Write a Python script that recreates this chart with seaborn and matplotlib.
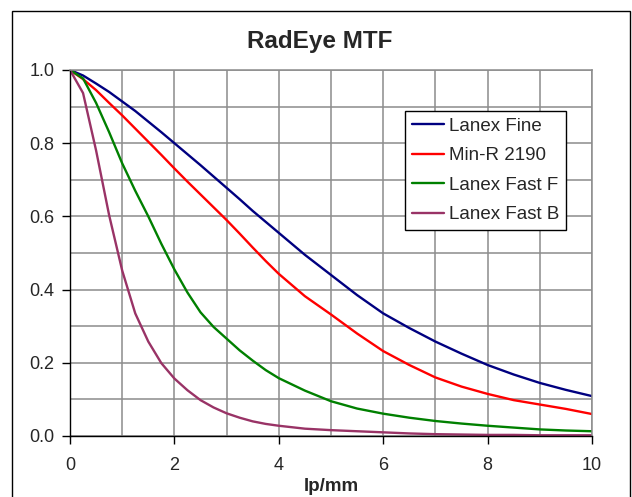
import numpy as np
import pandas as pd
import seaborn as sns
import matplotlib.pyplot as plt
from matplotlib.patches import Rectangle
from matplotlib.ticker import MultipleLocator

sns.set_style("white")
plt.rcParams['font.family'] = ['Liberation Sans', 'DejaVu Sans']

# spatial frequency, lp/mm
lpmm = [0, 0.25, 0.5, 0.75, 1, 1.25, 1.5, 1.75, 2, 2.25, 2.5, 2.75, 3, 3.25,
        3.5, 3.75, 4, 4.5, 5, 5.5, 6, 6.5, 7, 7.5, 8, 8.5, 9, 9.5, 10]

lanex_fine = [1.0, 0.985, 0.963, 0.94, 0.914, 0.888, 0.859, 0.83, 0.80, 0.77,
              0.74, 0.709, 0.678, 0.647, 0.615, 0.585, 0.555, 0.495, 0.44,
              0.385, 0.335, 0.295, 0.258, 0.225, 0.194, 0.168, 0.145, 0.126,
              0.109]
min_r_2190 = [1.0, 0.975, 0.945, 0.91, 0.876, 0.84, 0.804, 0.768, 0.731,
              0.695, 0.66, 0.625, 0.59, 0.553, 0.515, 0.478, 0.443, 0.382,
              0.332, 0.28, 0.232, 0.194, 0.16, 0.135, 0.115, 0.098, 0.086,
              0.074, 0.06]
lanex_fast_f = [1.0, 0.977, 0.91, 0.83, 0.745, 0.67, 0.60, 0.525, 0.455,
                0.392, 0.338, 0.298, 0.266, 0.234, 0.206, 0.18, 0.158, 0.124,
                0.095, 0.075, 0.061, 0.05, 0.041, 0.034, 0.028, 0.023, 0.018,
                0.015, 0.013]
lanex_fast_b = [1.0, 0.937, 0.78, 0.603, 0.452, 0.335, 0.258, 0.199, 0.157,
                0.125, 0.098, 0.078, 0.062, 0.05, 0.04, 0.033, 0.028, 0.02,
                0.016, 0.013, 0.01, 0.007, 0.005, 0.004, 0.003, 0.003, 0.002,
                0.002, 0.002]

names = ['Lanex Fine', 'Min-R 2190', 'Lanex Fast F', 'Lanex Fast B']
colors = ['#000080', '#FF0000', '#008000', '#993366']
series = [lanex_fine, min_r_2190, lanex_fast_f, lanex_fast_b]

df = pd.concat([pd.DataFrame({'lp/mm': lpmm, 'MTF': v, 'film': n})
                for n, v in zip(names, series)], ignore_index=True)

fig = plt.figure(figsize=(6.32, 4.97), dpi=100)
ax = fig.add_axes([70 / 632, 1 - 436 / 497, 522 / 632, 366 / 497])

sns.lineplot(data=df, x='lp/mm', y='MTF', hue='film', hue_order=names,
             palette=dict(zip(names, colors)), estimator=None, sort=False,
             linewidth=1.7, ax=ax)

ax.set_xlim(0, 10)
ax.set_ylim(0, 1.0)
ax.xaxis.set_major_locator(MultipleLocator(2))
ax.xaxis.set_minor_locator(MultipleLocator(1))
ax.yaxis.set_major_locator(MultipleLocator(0.2))
ax.yaxis.set_minor_locator(MultipleLocator(0.1))
ax.yaxis.set_major_formatter(plt.FormatStrFormatter('%.1f'))
ax.grid(True, which='both', color='#8c8c8c', linewidth=1.1)
ax.set_axisbelow(True)
ax.tick_params(which='major', direction='out', length=6, width=1,
               color='black', labelsize=13, pad=5, left=True, bottom=True)
ax.tick_params(axis='x', which='major', pad=9)
ax.tick_params(which='minor', length=0)

for s in ['left', 'bottom']:
    ax.spines[s].set_color('black')
    ax.spines[s].set_linewidth(1)
for s in ['top', 'right']:
    ax.spines[s].set_color('#8c8c8c')
    ax.spines[s].set_linewidth(1.1)

ax.set_xlabel('lp/mm', fontsize=13.5, fontweight='bold', labelpad=3)
ax.set_ylabel('')
ax.set_title('RadEye MTF', fontsize=17.5, fontweight='bold', pad=16,
             x=(320 - 70) / 522)

handles, labels = ax.get_legend_handles_labels()
leg = ax.legend(handles, labels, loc='upper left',
                bbox_to_anchor=(0.642, 0.888), borderaxespad=0,
                fontsize=13.5, frameon=True, fancybox=False, framealpha=1,
                edgecolor='black', handlelength=1.7, handletextpad=0.3,
                borderpad=0.35, labelspacing=0.66)
leg.get_frame().set_linewidth(1)

fig.add_artist(Rectangle((12 / 632, -0.1), (630 - 12) / 632, 1 - 11 / 497 + 0.1,
                         transform=fig.transFigure, fill=False,
                         edgecolor='black', linewidth=1))

fig.savefig('out.png', dpi=100)
